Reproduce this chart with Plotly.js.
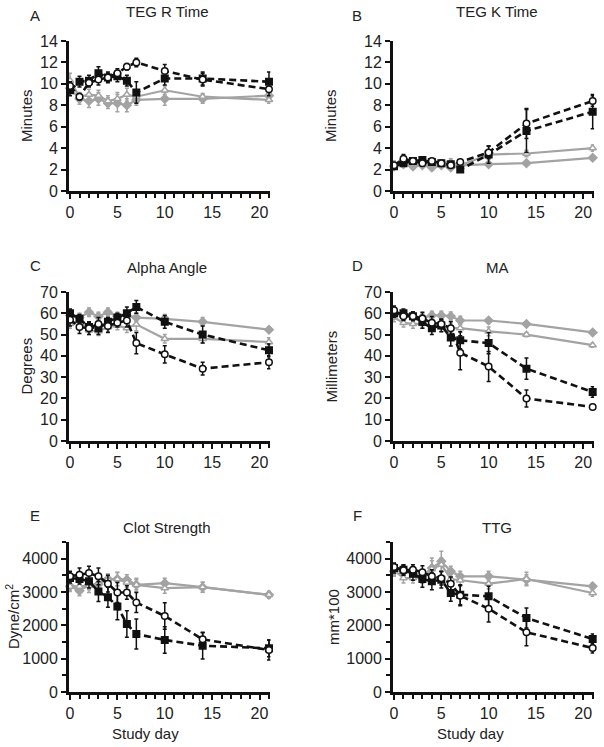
<!DOCTYPE html>
<html>
<head>
<meta charset="utf-8">
<script src="https://cdn.plot.ly/plotly-3.0.1.min.js"></script>
<style>html,body{margin:0;padding:0;background:#fff;}#chart{width:604px;height:747px;}</style>
</head>
<body>
<div id="chart"></div>
<script>
// ---- data ----
var days = [0, 1, 2, 3, 4, 5, 6, 7, 10, 14, 21];
var panelLetters = ['A', 'B', 'C', 'D', 'E', 'F'];
var panelTitles = ['TEG R Time', 'TEG K Time', 'Alpha Angle', 'MA', 'Clot Strength', 'TTG'];
var yTitles = ['Minutes', 'Minutes', 'Degrees', 'Millimeters', 'Dyne/cm<sup>2</sup>', 'mm*100'];
var xTitle = 'Study day';

// A: R time
var rSquare  = [9.4, 10.2, 10.3, 11.0, 10.6, 10.7, 10.3, 9.2, 10.5, 10.5, 10.2];
var rCircle  = [9.8, 8.8, 10.1, 10.4, 10.6, 11.0, 11.6, 12.0, 11.2, 10.4, 9.5];
var rDiamond = [9.6, 8.6, 8.4, 8.6, 8.2, 8.2, 8.0, 8.5, 8.6, 8.6, 8.9];
var rTri     = [10.3, 8.8, 9.0, 8.9, 8.4, 8.6, 9.0, 8.8, 9.4, 8.8, 8.5];
var rSquareE  = [0.5, 0.5, 0.5, 0.6, 0.5, 0.5, 0.5, 1.0, 0.6, 0.6, 0.9];
var rCircleE  = [0.4, 0.3, 0.4, 0.5, 0.4, 0.4, 0.3, 0.4, 0.6, 0.6, 0.6];
var rDiamondE = [0.5, 0.5, 0.6, 0.6, 0.5, 0.8, 0.6, 0.5, 0.6, 0.4, 0.4];
var rTriE     = [0.7, 0.4, 0.5, 0.5, 0.5, 0.6, 0.6, 0.4, 0.4, 0.3, 0.3];

// B: K time
var kSquare  = [2.3, 2.6, 2.8, 2.9, 2.7, 2.6, 2.5, 2.0, 3.4, 5.6, 7.4];
var kCircle  = [2.4, 3.0, 2.8, 2.6, 2.8, 2.6, 2.4, 2.7, 3.6, 6.3, 8.4];
var kDiamond = [2.3, 2.5, 2.3, 2.4, 2.2, 2.4, 2.2, 2.4, 2.5, 2.6, 3.1];
var kTri     = [2.5, 2.6, 2.5, 2.6, 2.5, 2.6, 2.7, 2.4, 3.4, 3.5, 4.0];
var kSquareE  = [0.2, 0.3, 0.3, 0.3, 0.2, 0.2, 0.2, 0.2, 0.8, 2.0, 1.6];
var kCircleE  = [0.2, 0.4, 0.3, 0.3, 0.2, 0.2, 0.2, 0.2, 0.6, 1.4, 0.5];
var kDiamondE = [0.2, 0.2, 0.2, 0.2, 0.2, 0.2, 0.2, 0.2, 0.2, 0.2, 0.2];
var kTriE     = [0.3, 0.3, 0.2, 0.2, 0.2, 0.2, 0.3, 0.2, 0.3, 0.3, 0.3];

// C: Alpha angle
var aSquare  = [60, 57.4, 53.5, 53, 56, 58, 60, 63, 56, 50, 42.6];
var aCircle  = [57, 53.5, 53, 55, 54, 55.5, 56.6, 46, 40.7, 34, 37];
var aDiamond = [59, 58, 60.5, 58.5, 60.5, 58.5, 59, 58, 57.4, 56, 52.3];
var aTri     = [55, 56.6, 52, 51.6, 53.5, 54.3, 53, 54.8, 48, 48, 46.5];
var aSquareE  = [2, 2, 2, 3, 2, 2, 3, 3, 3, 4, 3];
var aCircleE  = [3, 3, 3, 3, 3, 2, 3, 5, 4, 3, 3];
var aDiamondE = [2, 2, 2, 2, 2, 2, 2, 2, 2, 2, 1];
var aTriE     = [2, 2, 2, 2, 2, 2, 2, 3, 2, 2, 2];

// D: MA
var mSquare  = [60, 60, 58.6, 56, 53, 54.3, 48.6, 47.3, 46, 34, 23];
var mCircle  = [61.4, 58.6, 58.6, 57.5, 55.5, 55, 53, 41.5, 35, 20, 16];
var mDiamond = [60, 58.6, 58.6, 58, 59, 59, 58.6, 56.6, 56.6, 55, 51];
var mTri     = [58, 55.5, 55, 55, 54.3, 53.5, 53, 53, 51.5, 50, 45];
var mSquareE  = [2, 2, 2, 3, 3, 3, 4, 4, 5, 5, 2.5];
var mCircleE  = [2, 2, 2, 3, 3, 2, 3, 8, 7, 4, 1];
var mDiamondE = [2, 2, 2, 2, 2, 2, 2, 2, 1, 1, 1];
var mTriE     = [2, 2, 2, 2, 2, 2, 2, 2, 2, 1, 1];

// E: Clot strength
var cSquare  = [3420, 3390, 3320, 3015, 2845, 2565, 2040, 1740, 1560, 1390, 1310];
var cCircle  = [3470, 3520, 3570, 3470, 3250, 2985, 2985, 2685, 2280, 1580, 1260];
var cDiamond = [3170, 3035, 3215, 3235, 3390, 3390, 3370, 3215, 3265, 3145, 2915];
var cTri     = [3165, 3165, 3185, 3265, 3385, 3385, 3285, 3215, 3115, 3145, 2915];
var cSquareE  = [150, 150, 200, 300, 300, 400, 400, 450, 400, 400, 250];
var cCircleE  = [150, 200, 200, 250, 250, 300, 200, 300, 400, 200, 300];
var cDiamondE = [150, 150, 150, 150, 150, 200, 150, 200, 150, 150, 100];
var cTriE     = [150, 150, 200, 200, 150, 200, 150, 150, 150, 150, 100];

// F: TTG
var tSquare  = [3720, 3670, 3550, 3390, 3320, 3370, 2970, 2920, 2870, 2220, 1590];
var tCircle  = [3750, 3650, 3670, 3590, 3470, 3410, 3250, 2890, 2500, 1790, 1320];
var tDiamond = [3620, 3650, 3620, 3470, 3720, 3920, 3620, 3470, 3470, 3370, 3170];
var tTri     = [3650, 3420, 3420, 3420, 3690, 3820, 3390, 3350, 3250, 3390, 2970];
var tSquareE  = [150, 150, 200, 250, 250, 250, 250, 300, 300, 300, 150];
var tCircleE  = [100, 150, 150, 200, 200, 200, 200, 300, 400, 400, 150];
var tDiamondE = [150, 150, 150, 200, 300, 300, 150, 150, 150, 150, 100];
var tTriE     = [150, 150, 150, 150, 250, 200, 150, 150, 150, 200, 100];

var panels = [
  {sq: rSquare, ci: rCircle, di: rDiamond, tr: rTri, sqE: rSquareE, ciE: rCircleE, diE: rDiamondE, trE: rTriE},
  {sq: kSquare, ci: kCircle, di: kDiamond, tr: kTri, sqE: kSquareE, ciE: kCircleE, diE: kDiamondE, trE: kTriE},
  {sq: aSquare, ci: aCircle, di: aDiamond, tr: aTri, sqE: aSquareE, ciE: aCircleE, diE: aDiamondE, trE: aTriE},
  {sq: mSquare, ci: mCircle, di: mDiamond, tr: mTri, sqE: mSquareE, ciE: mCircleE, diE: mDiamondE, trE: mTriE},
  {sq: cSquare, ci: cCircle, di: cDiamond, tr: cTri, sqE: cSquareE, ciE: cCircleE, diE: cDiamondE, trE: cTriE},
  {sq: tSquare, ci: tCircle, di: tDiamond, tr: tTri, sqE: tSquareE, ciE: tCircleE, diE: tDiamondE, trE: tTriE}
];

// ---- layout geometry (pixels) ----
var W = 604, H = 747;
var colX = [[68.6, 270.4], [392.6, 594.1]];
var rowY = [[41, 191], [292, 441], [542, 692]];
var yRanges = [[0, 14], [0, 14], [0, 70], [0, 70], [0, 4500], [0, 4500]];
var yTicks = [[0,2,4,6,8,10,12,14],[0,2,4,6,8,10,12,14],[0,10,20,30,40,50,60,70],[0,10,20,30,40,50,60,70],[0,1000,2000,3000,4000],[0,1000,2000,3000,4000]];

var GRAY = '#a3a3a3';
var FONT = 'Liberation Sans, Arial, sans-serif';
var TICKFONT = {family: FONT, size: 16, color: '#222'};
var traces = [];
var layout = {
  width: W, height: H, margin: {l: 0, r: 0, t: 0, b: 0},
  paper_bgcolor: '#fff', plot_bgcolor: '#fff', showlegend: false,
  font: {family: FONT, size: 14, color: '#222'},
  annotations: []
};

function px2x(p) { return p / W; }
function py2y(p) { return 1 - p / H; }

panels.forEach(function (p, i) {
  var col = i % 2, row = Math.floor(i / 2);
  var n = i + 1;
  var xa = 'xaxis' + (n === 1 ? '' : n), ya = 'yaxis' + (n === 1 ? '' : n);
  var xr = 'x' + (n === 1 ? '' : n), yr = 'y' + (n === 1 ? '' : n);
  var x0 = colX[col][0], x1 = colX[col][1], yt = rowY[row][0], yb = rowY[row][1];
  layout[xa] = {
    domain: [px2x(x0), px2x(x1)], anchor: yr, range: [-0.15, 21.15],
    showgrid: false, zeroline: false, showline: true, linecolor: '#111', linewidth: 2.5,
    tickmode: 'array', tickvals: [0, 5, 10, 15, 20], ticks: 'outside', ticklen: 5, tickwidth: 2, tickcolor: '#111',
    minor: {dtick: 1, tick0: 0, ticks: 'outside', ticklen: 4, tickwidth: 2, tickcolor: '#111', showgrid: false},
    tickfont: TICKFONT
  };
  var yax = {
    domain: [py2y(yb), py2y(yt)], anchor: xr, range: yRanges[i],
    showgrid: false, zeroline: false, showline: true, linecolor: '#111', linewidth: 2.5,
    tickmode: 'array', tickvals: yTicks[i], ticks: 'outside', ticklen: 5, tickwidth: 2, tickcolor: '#111',
    tickfont: TICKFONT
  };
  if (i >= 4) {
    yax.minor = {dtick: 500, tick0: 0, ticks: 'outside', ticklen: 4, tickwidth: 2, tickcolor: '#111', showgrid: false};
  }
  layout[ya] = yax;

  function mk(y, e, color, dash, symbol, fill, lineCol, ecol) {
    return {
      type: 'scatter', mode: 'lines+markers', x: days, y: y, xaxis: xr, yaxis: yr,
      line: {color: color, width: dash ? 2.6 : 2.2, dash: dash ? '7px,4px' : 'solid'},
      marker: {symbol: symbol, size: 6.5, color: fill, line: {color: lineCol, width: 1.5}},
      error_y: {type: 'data', array: e, visible: true, color: ecol, thickness: 1.5, width: 2},
      cliponaxis: false
    };
  }
  traces.push(mk(p.di, p.diE, GRAY, false, 'diamond', GRAY, GRAY, GRAY));
  traces.push(mk(p.tr, p.trE, GRAY, false, 'triangle-up', '#fff', GRAY, GRAY));
  traces.push(mk(p.sq, p.sqE, '#111', true, 'square', '#111', '#111', '#111'));
  traces.push(mk(p.ci, p.ciE, '#111', true, 'circle', '#fff', '#111', '#111'));

  var letterX = col === 0 ? 35 : 357;
  var letterY = [15, 265, 515][row];
  var titleY = [12, 267, 527][row];
  layout.annotations.push({text: panelLetters[i], xref: 'paper', yref: 'paper', x: px2x(letterX), y: py2y(letterY),
    xanchor: 'center', yanchor: 'middle', showarrow: false, font: {family: FONT, size: 15, color: '#222'}});
  layout.annotations.push({text: panelTitles[i], xref: 'paper', yref: 'paper', x: px2x(col === 0 ? 167 : 497), y: py2y(titleY),
    xanchor: 'center', yanchor: 'middle', showarrow: false, font: {family: FONT, size: 15, color: '#222'}});
  var ytX = [27, 331, 26, 331, 12, 333][i];
  layout.annotations.push({text: yTitles[i], xref: 'paper', yref: 'paper', x: px2x(ytX), y: py2y((yt + yb) / 2),
    xanchor: 'center', yanchor: 'middle', textangle: -90, showarrow: false, font: {family: FONT, size: 15, color: '#222'}});
  if (row === 2) {
    layout.annotations.push({text: xTitle, xref: 'paper', yref: 'paper', x: px2x(col === 0 ? 145 : 470), y: py2y(733),
      xanchor: 'center', yanchor: 'middle', showarrow: false, font: {family: FONT, size: 15, color: '#222'}});
  }
});

Plotly.newPlot('chart', traces, layout, {staticPlot: true, displayModeBar: false});
</script>
</body>
</html>
